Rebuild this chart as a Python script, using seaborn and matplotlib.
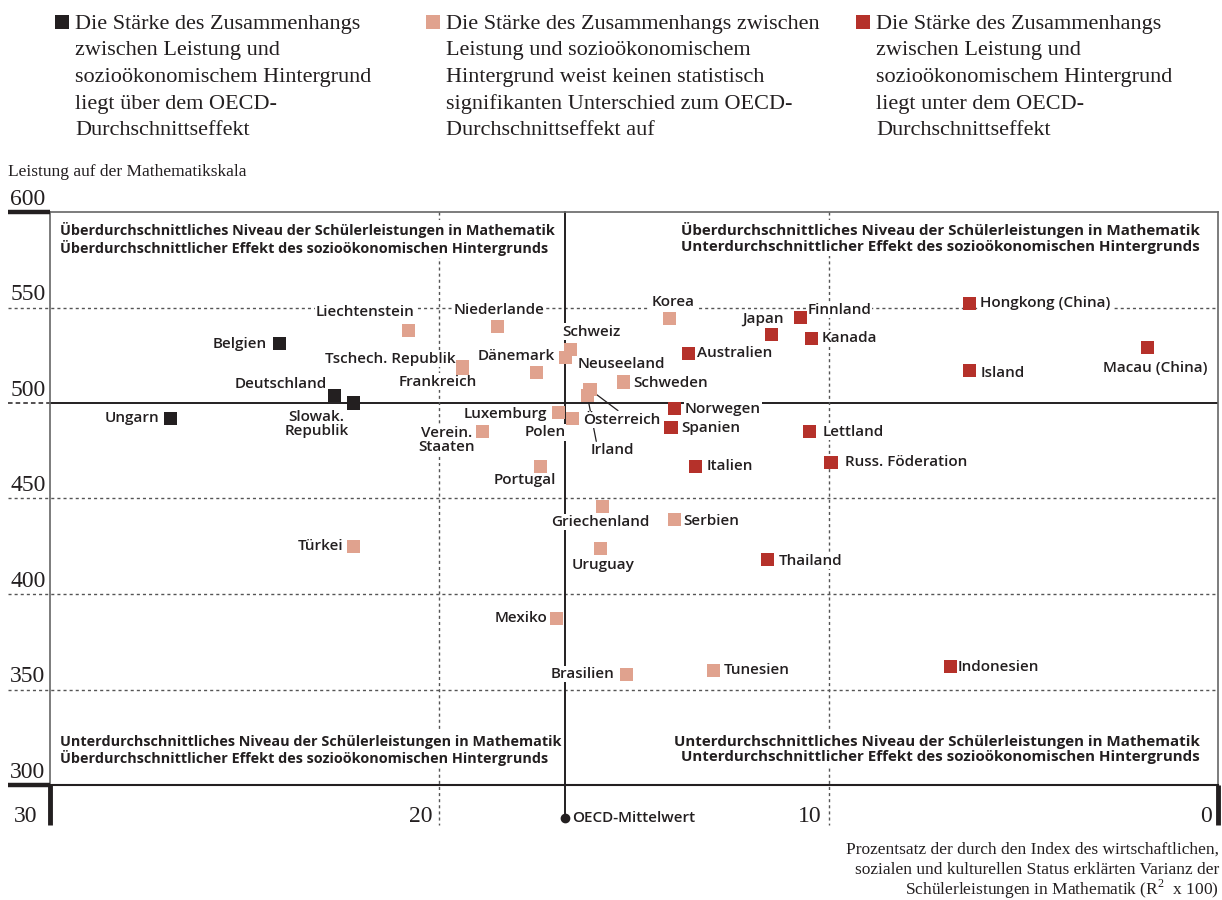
import matplotlib
matplotlib.use("Agg")
import matplotlib.pyplot as plt
import matplotlib.transforms as mtransforms
from matplotlib.patches import Rectangle
import pandas as pd
import seaborn as sns

# ---- data -------------------------------------------------------------
countries = [
    "Ungarn", "Belgien", "Deutschland", "Slowak.\nRepublik", "Türkei",
    "Liechtenstein", "Tschech. Republik", "Frankreich", "Niederlande",
    "Verein.\nStaaten", "Dänemark", "Portugal", "Mexiko", "Luxemburg",
    "Schweiz", "Neuseeland", "Polen", "Österreich", "Irland", "Uruguay",
    "Griechenland", "Schweden", "Brasilien", "Korea", "Norwegen", "Spanien",
    "Serbien", "Australien", "Italien", "Tunesien", "Thailand", "Japan",
    "Finnland", "Kanada", "Lettland", "Russ. Föderation", "Indonesien",
    "Hongkong (China)", "Island", "Macau (China)",
]
r2_pct = [
    26.9, 24.1, 22.7, 22.2, 22.2,
    20.8, 19.4, 19.4, 18.5,
    18.9, 17.5, 17.4, 17.0, 16.95,
    16.64, 16.75, 16.57, 16.13, 16.2, 15.85,
    15.8, 15.26, 15.2, 14.1, 13.97, 14.05,
    13.95, 13.6, 13.43, 12.97, 11.58, 11.48,
    10.73, 10.45, 10.48, 9.94, 6.86,
    6.39, 6.39, 1.8,
]
math_score = [
    492, 531, 504, 500, 425,
    538, 519, 518, 540,
    485, 516, 467, 387, 495,
    528, 524, 492, 507, 504, 424,
    446, 511, 358, 544, 497, 487,
    439, 526, 467, 360, 418, 536,
    545, 534, 485, 469, 362,
    552, 517, 529,
]
group = [
    "ueber", "ueber", "ueber", "ueber", "ns",
    "ns", "ns", "ns", "ns",
    "ns", "ns", "ns", "ns", "ns",
    "ns", "ns", "ns", "ns", "ns", "ns",
    "ns", "ns", "ns", "ns", "unter", "unter",
    "ns", "unter", "unter", "ns", "unter", "unter",
    "unter", "unter", "unter", "unter", "unter",
    "unter", "unter", "unter",
]
group_order = ["ueber", "ns", "unter"]
group_text = [
    "Die Stärke des Zusammenhangs\nzwischen Leistung und\nsozioökonomischem Hintergrund\nliegt über dem OECD-\nDurchschnittseffekt",
    "Die Stärke des Zusammenhangs zwischen\nLeistung und sozioökonomischem\nHintergrund weist keinen statistisch\nsignifikanten Unterschied zum OECD-\nDurchschnittseffekt auf",
    "Die Stärke des Zusammenhangs\nzwischen Leistung und\nsozioökonomischem Hintergrund\nliegt unter dem OECD-\nDurchschnittseffekt",
]
oecd_r2 = 16.77
oecd_score = 500
x_ticks = [30, 20, 10, 0]
y_ticks = [600, 550, 500, 450, 400, 350, 300]
quadrant_text = [
    "Überdurchschnittliches Niveau der Schülerleistungen in Mathematik\nÜberdurchschnittlicher Effekt des sozioökonomischen Hintergrunds",
    "Überdurchschnittliches Niveau der Schülerleistungen in Mathematik\nUnterdurchschnittlicher Effekt des sozioökonomischen Hintergrunds",
    "Unterdurchschnittliches Niveau der Schülerleistungen in Mathematik\nÜberdurchschnittlicher Effekt des sozioökonomischen Hintergrunds",
    "Unterdurchschnittliches Niveau der Schülerleistungen in Mathematik\nUnterdurchschnittlicher Effekt des sozioökonomischen Hintergrunds",
]
x_title = [
    "Prozentsatz der durch den Index des wirtschaftlichen,",
    "sozialen und kulturellen Status erklärten Varianz der",
    "Schülerleistungen in Mathematik (R$^{2}$  x 100)",
]

df = pd.DataFrame({"land": countries, "r2": r2_pct, "score": math_score, "gruppe": group})

# ---- style ------------------------------------------------------------
palette = {"ueber": "#231f20", "ns": "#e0a28e", "unter": "#b5312a"}
ink = "#231f20"
grid_col = "#555555"
sns.set_style("white")
plt.rcParams["font.family"] = ["Open Sans", "DejaVu Sans"]
plt.rcParams["mathtext.fontset"] = "custom"
plt.rcParams["mathtext.rm"] = "Liberation Serif"
serif = ["Liberation Serif", "DejaVu Serif"]
sans = ["Open Sans", "DejaVu Sans"]

W, H = 1222, 900
fig = plt.figure(figsize=(W / 100, H / 100), dpi=100)
ax_l, ax_r, ax_t, ax_b = 50, 1218, 212, 785
ax = fig.add_axes([ax_l / W, 1 - ax_b / H, (ax_r - ax_l) / W, (ax_b - ax_t) / H])

# country markers
sns.scatterplot(data=df, x="r2", y="score", hue="gruppe", hue_order=group_order,
                palette=palette, marker="s", s=88, linewidth=0, legend=False,
                ax=ax, zorder=4, clip_on=False)
ax.set_xlim(30, 0)
ax.set_ylim(300, 600)
ax.set_xticks([])
ax.set_yticks([])
ax.set_xlabel("")
ax.set_ylabel("")
for side in ["left", "top", "right"]:
    ax.spines[side].set_color("#666666")
    ax.spines[side].set_linewidth(1.2)
ax.spines["bottom"].set_color(ink)
ax.spines["bottom"].set_linewidth(1.5)

dots = (0, (2.2, 2.2))

# horizontal gridlines (dotted) and reference line at the OECD mean score
blend_y = mtransforms.blended_transform_factory(ax.transAxes, ax.transData)
for v in y_ticks:
    if v in (300, 600):
        ax.plot([-0.036, 0], [v, v], transform=blend_y, color=ink, lw=3.2,
                clip_on=False, solid_capstyle="butt", zorder=5)
    elif v == oecd_score:
        ax.plot([-0.036, 0], [v, v], transform=blend_y, color=ink, lw=1.1,
                ls=(0, (3, 2)), clip_on=False, zorder=1)
        ax.axhline(v, color=ink, lw=1.4, zorder=1)
    else:
        ax.plot([-0.036, 1], [v, v], transform=blend_y, color=grid_col, lw=1.0,
                ls=dots, clip_on=False, zorder=1)
    ax.annotate(str(v), xy=(-0.034, v), xycoords=blend_y, xytext=(0, 2),
                textcoords="offset pixels", ha="left", va="bottom",
                fontsize=17, family=serif, color=ink, annotation_clip=False)

# vertical gridlines, tick bars and x tick labels
low = 300 - 40 / 1.9067
tick_dx = {30: -13, 20: -7, 10: -7, 0: -6}
for v in x_ticks:
    if v in (30, 0):
        ax.plot([v, v], [300, low], color=ink, lw=3.5, clip_on=False,
                solid_capstyle="butt", zorder=5)
    else:
        ax.plot([v, v], [600, low], color=grid_col, lw=1.0, ls=dots,
                clip_on=False, zorder=1)
    ax.annotate(str(v), xy=(v, 300), xycoords="data", xytext=(tick_dx[v], -32),
                textcoords="offset pixels", ha="right", va="center",
                fontsize=17, family=serif, color=ink, annotation_clip=False)

# OECD mean of the explained variance
oecd_foot = 300 - 33 / 1.9067
ax.plot([oecd_r2, oecd_r2], [600, oecd_foot], color=ink, lw=1.4,
        clip_on=False, zorder=2)
ax.plot([oecd_r2], [oecd_foot], marker="o", ms=6, color=ink,
        clip_on=False, zorder=5)
ax.annotate("OECD-Mittelwert", xy=(oecd_r2, oecd_foot), xycoords="data",
            xytext=(7, 0), textcoords="offset pixels", ha="left", va="center",
            fontsize=11, fontweight="semibold", family=sans, color=ink,
            annotation_clip=False)

# quadrant captions
qbox = dict(boxstyle="square,pad=0.15", fc="white", ec="none")
qkw = dict(fontweight="bold", family=sans, color=ink,
           linespacing=1.12, zorder=3, bbox=qbox)
ax.text(0.0086, 0.982, quadrant_text[0], transform=ax.transAxes, ha="left",
        va="top", fontsize=10.4, **qkw)
ax.text(0.9846, 0.982, quadrant_text[1], transform=ax.transAxes, ha="right",
        va="top", fontsize=10.9, **qkw)
ax.text(0.0086, 0.088, quadrant_text[2], transform=ax.transAxes, ha="left",
        va="top", fontsize=10.4, **qkw)
ax.text(0.9846, 0.088, quadrant_text[3], transform=ax.transAxes, ha="right",
        va="top", fontsize=10.9, **qkw)

# country labels: (ha, dx, dy) in pixels, dy measured downwards
label_layout = {
    "Ungarn": ("right", -11, 0),
    "Belgien": ("right", -13, 0),
    "Deutschland": ("right", -7, -11),
    "Slowak.\nRepublik": ("center", -37, 21),
    "Türkei": ("right", -10, 0),
    "Liechtenstein": ("center", -43, -18),
    "Tschech. Republik": ("right", -7, -8),
    "Frankreich": ("center", -25, 13),
    "Niederlande": ("center", 1, -17),
    "Verein.\nStaaten": ("center", -36, 8),
    "Dänemark": ("right", 18, -16),
    "Portugal": ("center", -16, 14),
    "Mexiko": ("right", -9, -1),
    "Luxemburg": ("right", -11, 1),
    "Schweiz": ("left", -8, -18),
    "Neuseeland": ("left", 12, 7),
    "Polen": ("right", -7, 14),
    "Österreich": ("left", -7, 30),
    "Irland": ("left", 3, 55),
    "Uruguay": ("center", 2, 17),
    "Griechenland": ("center", -3, 16),
    "Schweden": ("left", 9, 1),
    "Brasilien": ("right", -12, 0),
    "Korea": ("center", 4, -17),
    "Norwegen": ("left", 11, 0),
    "Spanien": ("left", 10, 0),
    "Serbien": ("left", 8, 1),
    "Australien": ("left", 8, 0),
    "Italien": ("left", 11, 0),
    "Tunesien": ("left", 11, 0),
    "Thailand": ("left", 12, 1),
    "Japan": ("right", 13, -15),
    "Finnland": ("left", 7, -7),
    "Kanada": ("left", 10, 0),
    "Lettland": ("left", 13, 0),
    "Russ. Föderation": ("left", 14, 0),
    "Indonesien": ("left", 7, 0),
    "Hongkong (China)": ("left", 11, -1),
    "Island": ("left", 11, 2),
    "Macau (China)": ("center", 7, 20),
}
unboxed = {"Luxemburg", "Slowak.\nRepublik"}
leaders = {"Österreich": (28, 21), "Irland": (9, 46)}
lbox = dict(boxstyle="square,pad=0.08", fc="white", ec="none")
for name, xv, yv in zip(countries, r2_pct, math_score):
    ha, dx, dy = label_layout[name]
    ax.annotate(name, xy=(xv, yv), xycoords="data", xytext=(dx, -dy),
                textcoords="offset pixels", ha=ha, va="center",
                multialignment="center", fontsize=11, fontweight="semibold",
                family=sans, color=ink, linespacing=1.0,
                bbox=None if name in unboxed else lbox, zorder=3)
    if name in leaders:
        ex, ey = leaders[name]
        ax.annotate("", xy=(xv, yv), xycoords="data", xytext=(ex, -ey),
                    textcoords="offset pixels",
                    arrowprops=dict(arrowstyle="-", color=ink, lw=0.9,
                                    shrinkA=0, shrinkB=0), zorder=2.5)

# legend across the top
legend_x = [55, 426, 856]
for gkey, gx, txt in zip(group_order, legend_x, group_text):
    fig.patches.append(Rectangle((gx / W, 1 - 29 / H), 14 / W, 14 / H,
                                 transform=fig.transFigure, fc=palette[gkey],
                                 ec="none"))
    for i, line in enumerate(txt.split("\n")):
        fig.text((gx + 20) / W, 1 - (22 + 26.5 * i) / H, line, ha="left",
                 va="center_baseline", fontsize=16, family=serif, color=ink)

# axis titles
fig.text(8 / W, 1 - 172 / H, "Leistung auf der Mathematikskala", ha="left",
         va="center", fontsize=12.5, family=serif, color=ink)
for i, line in enumerate(x_title):
    fig.text(1219 / W, 1 - (854 + 20.5 * i) / H, line, ha="right",
             va="baseline", fontsize=12.5, family=serif, color=ink)

fig.savefig("out.png", dpi=100, facecolor="white")
